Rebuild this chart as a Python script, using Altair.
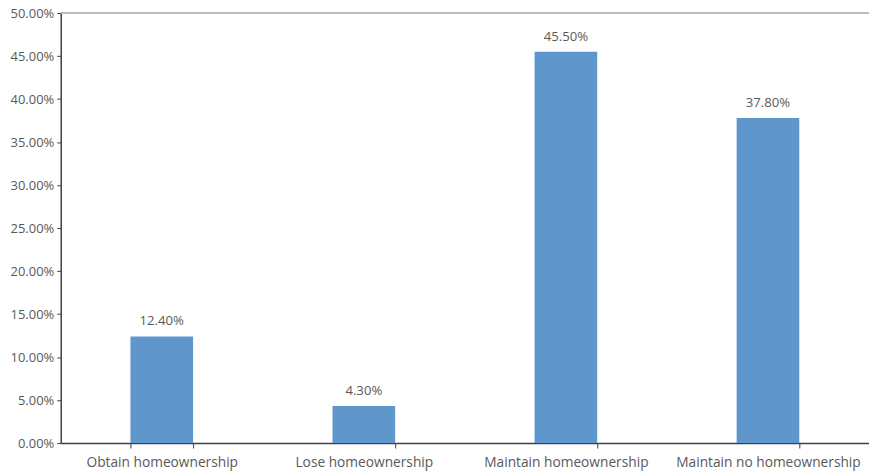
import altair as alt
import pandas as pd

# Share of households by homeownership transition
categories = [
    "Obtain homeownership",
    "Lose homeownership",
    "Maintain homeownership",
    "Maintain no homeownership",
]
shares = [0.124, 0.043, 0.455, 0.378]

df = pd.DataFrame({"category": categories, "share": shares})

FONT = "Open Sans"
GREY = "#595959"

x_enc = alt.X(
    "category:N",
    sort=categories,
    title=None,
    scale=alt.Scale(paddingInner=0.69, paddingOuter=0.345),
    axis=alt.Axis(
        labelAngle=0,
        labelFont=FONT,
        labelFontSize=13.8,
        labelColor=GREY,
        labelPadding=8,
        labelLimit=400,
        tickBand="extent",
        tickSize=5,
        tickColor="#404040",
        domainColor="#404040",
        domainWidth=1.5,
    ),
)

y_enc = alt.Y(
    "share:Q",
    title=None,
    scale=alt.Scale(domain=[0, 0.5], nice=False),
    axis=alt.Axis(
        format=".2%",
        values=[i * 0.05 for i in range(11)],
        labelFont=FONT,
        labelFontSize=13,
        labelColor=GREY,
        labelPadding=3,
        tickSize=4,
        tickColor="#404040",
        domainColor="#404040",
        domainWidth=1.5,
        grid=False,
    ),
)

bars = alt.Chart(df).mark_bar(color="#5F97CD").encode(x=x_enc, y=y_enc)

labels = alt.Chart(df).mark_text(
    baseline="bottom", dy=-8, font=FONT, fontSize=13.2, color=GREY
).encode(
    x=alt.X("category:N", sort=categories),
    y=alt.Y("share:Q"),
    text=alt.Text("share:Q", format=".2%"),
)

# Upper border of the plot area
top_line = alt.Chart(pd.DataFrame({"y": [0.5]})).mark_rule(
    color="#A6A6A6", strokeWidth=1.5
).encode(y="y:Q")

chart = (
    alt.layer(bars, labels, top_line)
    .properties(
        width=812,
        height=432,
        autosize=alt.AutoSizeParams(type="none"),
        padding={"left": 61, "top": 12, "right": 0, "bottom": 31},
    )
    .configure_view(stroke=None)
)

chart.save("out.html", embed_options={"renderer": "svg", "actions": False})
